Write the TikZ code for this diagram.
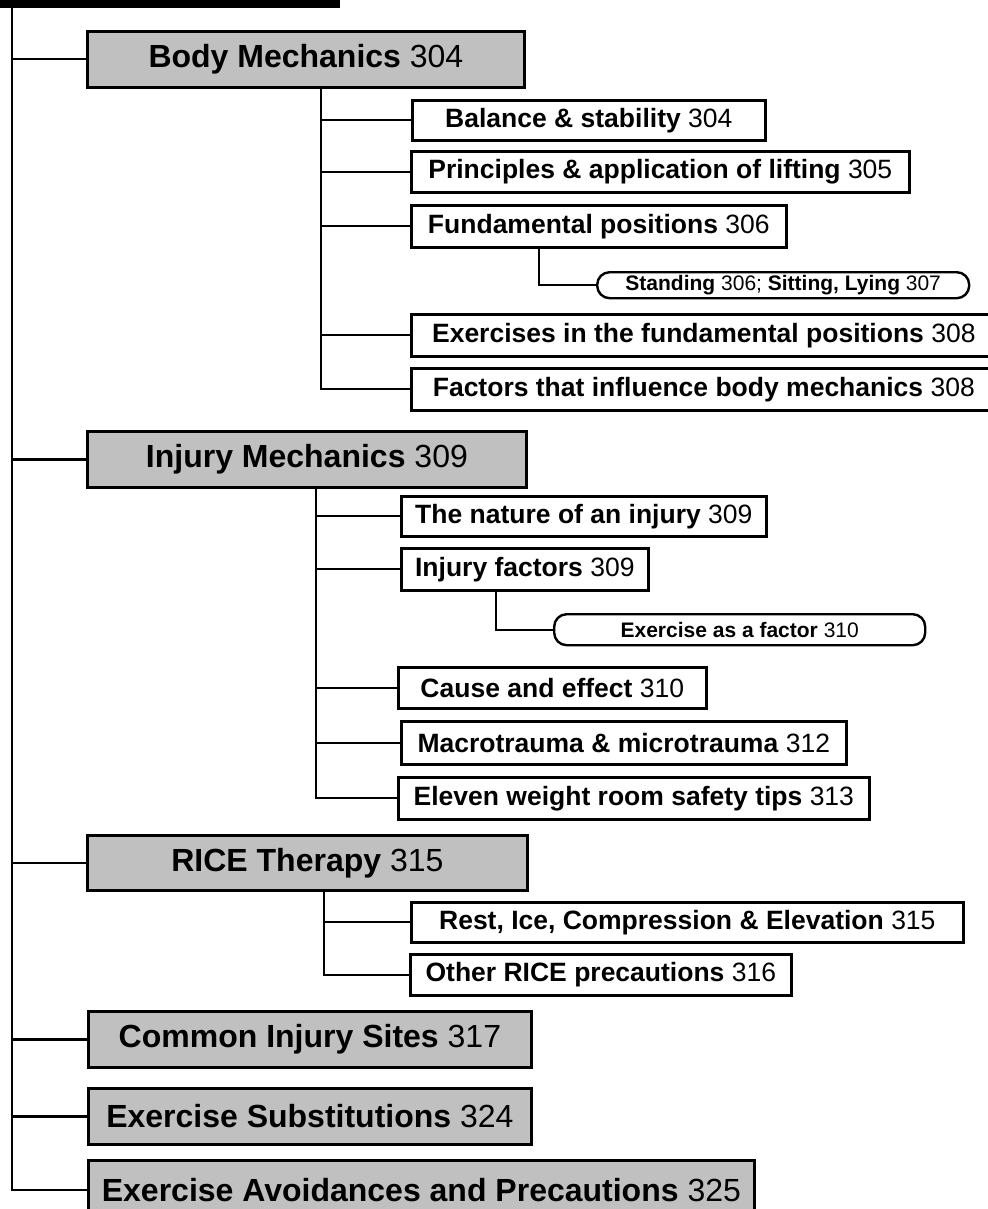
\documentclass[tikz,border=0pt]{standalone}
\usepackage{fontspec}
\setmainfont{Liberation Sans}
\definecolor{boxgray}{RGB}{192,192,192}
\newcommand\gfont{\fontsize{32}{36}\selectfont}
\newcommand\wfont{\fontsize{26.5}{30}\selectfont}
\newcommand\rfont{\fontsize{21}{24}\selectfont}
\newcommand\bx[7]{\node[#1, anchor=north west, minimum width={#5-#3}, minimum height={#6-#4}] (#2) at (#3,-#4) {#7};}
\tikzset{
  gbox/.style={draw, line width=2.8pt, fill=boxgray, inner sep=0pt, font=\gfont},
  wbox/.style={draw, line width=2.6pt, fill=white, inner sep=0pt, font=\wfont},
  rbox/.style={draw, line width=2.4pt, fill=white, inner sep=0pt, rounded corners=12.5pt, font=\rfont},
  conn/.style={draw, line width=2.2pt}
}
\begin{document}
\begin{tikzpicture}[x=1pt,y=1pt]
\useasboundingbox (0,0) rectangle (987,-1209);
\node[fill=black, anchor=north west, minimum width=340, minimum height=8, inner sep=0pt] (topbar) at (0,0) {};
% level 1
\bx{gbox}{bm}{86}{30}{523}{86}{\textbf{Body Mechanics} 304}
\bx{gbox}{im}{86}{430}{525}{486}{\textbf{Injury Mechanics} 309}
\bx{gbox}{rice}{86}{834}{526}{889}{\textbf{RICE Therapy} 315}
\bx{gbox}{common}{87}{1010}{530}{1066}{\textbf{Common Injury Sites} 317}
\bx{gbox}{subst}{87}{1087}{530}{1143}{\textbf{Exercise Substitutions} 324}
\bx{gbox}{avoid}{87}{1159}{753}{1218}{\textbf{Exercise Avoidances and Precautions} 325}
% body mechanics children
\bx{wbox}{balance}{411}{99}{764}{139}{\textbf{Balance \& stability} 304}
\bx{wbox}{principles}{410}{150}{908}{191}{\textbf{Principles \& application of lifting} 305}
\bx{wbox}{fundamental}{410}{204}{785}{246}{\textbf{Fundamental positions} 306}
\bx{rbox}{standing}{596}{271}{968}{297}{\textbf{Standing} 306; \textbf{Sitting, Lying} 307}
\bx{wbox}{exercises}{410}{313}{995}{355}{\textbf{Exercises in the fundamental positions} 308\hspace{12pt}}
\bx{wbox}{factors}{410}{367}{995}{409}{\textbf{Factors that influence body mechanics} 308\hspace{12pt}}
% injury mechanics children
\bx{wbox}{nature}{400}{495}{765}{535}{\textbf{The nature of an injury} 309}
\bx{wbox}{injfactors}{400}{547}{647}{589}{\textbf{Injury factors} 309}
\bx{rbox}{exfactor}{553}{613}{924}{644}{\textbf{Exercise as a factor} 310}
\bx{wbox}{cause}{397}{666}{705}{707}{\textbf{Cause and effect} 310}
\bx{wbox}{macro}{400}{720}{845}{763}{\textbf{Macrotrauma \& microtrauma} 312}
\bx{wbox}{eleven}{397}{776}{868}{818}{\textbf{Eleven weight room safety tips} 313}
% rice children
\bx{wbox}{rest}{410}{901}{962}{941}{\textbf{Rest, Ice, Compression \& Elevation} 315}
\bx{wbox}{other}{409}{953}{790}{994}{\textbf{Other RICE precautions} 316}
% main trunk
\coordinate (mtop) at (12,-8);
\draw[conn] (mtop) |- (avoid.west);
\foreach \n in {bm,im,rice,common,subst}{\draw[conn] (mtop |- \n.west) -- (\n.west);}
% body mechanics branch
\coordinate (bmv) at (321,-86);
\draw[conn] (bmv) |- (factors.west);
\foreach \n in {balance,principles,fundamental,exercises}{\draw[conn] (bmv |- \n.west) -- (\n.west);}
\coordinate (fpv) at (539,-246);
\draw[conn] (fpv) |- (standing.west);
% injury mechanics branch
\coordinate (imv) at (316,-486);
\draw[conn] (imv) |- (eleven.west);
\foreach \n in {nature,injfactors,cause,macro}{\draw[conn] (imv |- \n.west) -- (\n.west);}
\coordinate (ifv) at (496,-589);
\draw[conn] (ifv) |- (exfactor.west);
% rice branch
\coordinate (rv) at (324,-889);
\draw[conn] (rv) |- (other.west);
\draw[conn] (rv |- rest.west) -- (rest.west);
\end{tikzpicture}
\end{document}
